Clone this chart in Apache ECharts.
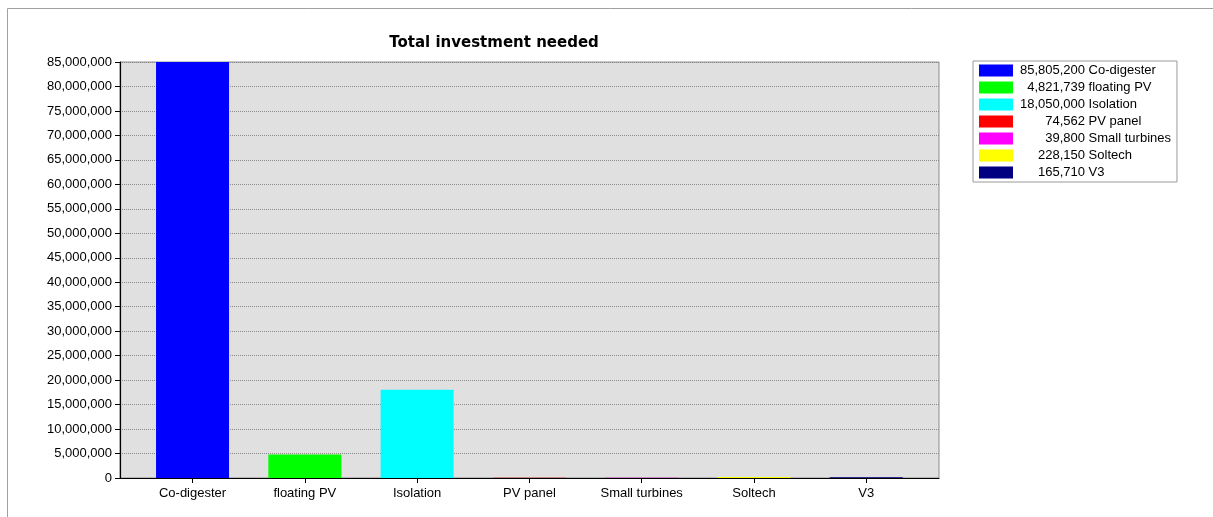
<!DOCTYPE html>
<html>
<head>
<meta charset="utf-8">
<script src="https://cdn.jsdelivr.net/npm/echarts@6/dist/echarts.min.js"></script>
<style>
  html, body { margin: 0; padding: 0; background: #fff; }
  #chart { width: 1213px; height: 517px; }
</style>
</head>
<body>
<div id="chart"></div>
<script>
  // chart data
  var categories = ['Co-digester', 'floating PV', 'Isolation', 'PV panel', 'Small turbines', 'Soltech', 'V3'];
  var investment = [85805200, 4821739, 18050000, 74562, 39800, 228150, 165710];
  var barColors = ['#0000ff', '#00ff00', '#00ffff', '#ff0000', '#ff00ff', '#ffff00', '#000080'];
  var yMax = 85000000;
  var yStep = 5000000;

  var font = 'Liberation Sans, Arial, sans-serif';

  function fmt(v) {
    return Number(v).toLocaleString('en-US');
  }

  // legend numbers are right aligned, so measure them and pad in front
  var ctx = document.createElement('canvas').getContext('2d');
  ctx.font = '13px ' + font;
  var numCol = 67;
  var rich = {};
  categories.forEach(function (c, i) {
    var w = ctx.measureText(fmt(investment[i])).width;
    rich['p' + i] = { width: Math.max(1, numCol - w), fontSize: 13, lineHeight: 12 };
  });

  // one series per category so the legend can list them
  var series = categories.map(function (name, i) {
    var d = categories.map(function (c, j) { return j === i ? investment[i] : '-'; });
    return {
      name: name,
      type: 'bar',
      xAxisIndex: 1,
      yAxisIndex: 1,
      stack: 'all',
      barWidth: 73,
      clip: true,
      itemStyle: { color: barColors[i] },
      emphasis: { disabled: true },
      data: d
    };
  });

  var chart = echarts.init(document.getElementById('chart'));
  chart.setOption({
    animation: false,
    title: {
      text: 'Total investment needed',
      left: 489,
      textAlign: 'center',
      top: 31,
      textStyle: { fontFamily: 'DejaVu Sans', fontWeight: 'bold', fontSize: 15, color: '#000' }
    },
    graphic: [
      { type: 'line', shape: { x1: 7.5, y1: 8.5, x2: 1213, y2: 8.5 }, style: { stroke: '#a0a0a0', lineWidth: 1 }, silent: true },
      { type: 'line', shape: { x1: 7.5, y1: 8.5, x2: 7.5, y2: 517 }, style: { stroke: '#a0a0a0', lineWidth: 1 }, silent: true }
    ],
    legend: {
      orient: 'vertical',
      left: 973,
      top: 61,
      width: 203,
      backgroundColor: '#fff',
      borderColor: '#999',
      borderWidth: 1,
      borderRadius: 0,
      padding: [3, 6, 3, 6],
      itemGap: 4,
      itemWidth: 34,
      itemHeight: 12,
      icon: 'rect',
      selectedMode: false,
      data: categories,
      formatter: function (name) {
        var i = categories.indexOf(name);
        return '{p' + i + '| }' + fmt(investment[i]) + ' ' + name;
      },
      textStyle: {
        fontFamily: font,
        fontSize: 13,
        color: '#000',
        lineHeight: 12,
        rich: rich
      }
    },
    grid: [
      {
        left: 120, top: 62, width: 819, height: 416,
        show: true, backgroundColor: '#e0e0e0', borderColor: '#8c8c8c', borderWidth: 1
      },
      { left: 136.4, top: 62, width: 786, height: 416 }
    ],
    xAxis: [
      {
        gridIndex: 0, type: 'value', min: 0, max: 1,
        axisLine: { show: true, lineStyle: { color: '#000', width: 1.2 } },
        axisTick: { show: false }, axisLabel: { show: false }, splitLine: { show: false }
      },
      {
        gridIndex: 1, type: 'category', data: categories,
        axisLine: { show: false },
        axisTick: { show: true, alignWithLabel: true, length: 5, lineStyle: { color: '#000' } },
        axisLabel: { margin: 9, fontFamily: font, fontSize: 13, color: '#000' },
        splitLine: { show: false }
      }
    ],
    yAxis: [
      {
        gridIndex: 0, type: 'value', min: 0, max: yMax, interval: yStep,
        axisLine: { show: true, lineStyle: { color: '#000', width: 1.2 } },
        axisTick: { show: true, length: 5, lineStyle: { color: '#000' } },
        axisLabel: { margin: 8, fontFamily: font, fontSize: 13, color: '#000', formatter: fmt },
        splitLine: { show: true, lineStyle: { color: '#8a8a8a', type: [1, 1], width: 1 } }
      },
      {
        gridIndex: 1, type: 'value', min: 0, max: yMax, interval: yStep, show: false,
        splitLine: { show: false }
      }
    ],
    series: series
  });
</script>
</body>
</html>
